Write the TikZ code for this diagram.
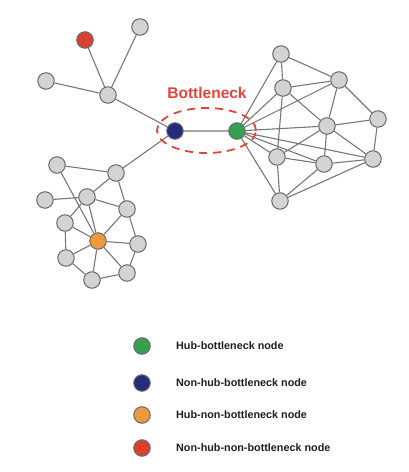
\documentclass[tikz,border=0pt]{standalone}
\usepackage{fontspec}
\setmainfont{Liberation Sans}
\usepackage{xcolor}
\usetikzlibrary{backgrounds}
\definecolor{hubgreen}{HTML}{35A04F}
\definecolor{navy3}{HTML}{272C7A}
\definecolor{orange3}{HTML}{EC9A3C}
\definecolor{red3}{HTML}{D9412F}
\definecolor{gray3}{HTML}{D3D3D3}
\definecolor{rim3}{HTML}{6A6A6A}
\definecolor{link3}{HTML}{777777}
\definecolor{mark3}{HTML}{E2443A}
\tikzset{
  vert/.style={circle, draw=rim3, line width=1pt, fill=gray3, minimum size=16.5pt, inner sep=0pt},
  link/.style={draw=link3, line width=1.1pt},
  keytext/.style={anchor=west, inner sep=0pt, text=black!88, font=\bfseries\fontsize{10.8}{12}\selectfont}
}

\begin{document}
\begin{tikzpicture}[x=1pt, y=-1pt]
    \useasboundingbox (0,0) rectangle (408,472);

    % Star around the upper hub
    \node[vert] (tA) at (140,27) {};
    \node[vert, fill=red3] (tB) at (85,40) {};
    \node[vert] (tC) at (46,81) {};
    \node[vert] (tD) at (108,95) {};

    % The two ends of the bottleneck
    \node[vert, fill=navy3] (nhb) at (175,131) {};
    \node[vert, fill=hubgreen] (hb) at (237,131) {};

    % Right cluster
    \node[vert] (r1) at (281,54) {};
    \node[vert] (r2) at (283,88) {};
    \node[vert] (r3) at (339,80) {};
    \node[vert] (r4) at (378,119) {};
    \node[vert] (r5) at (327,126) {};
    \node[vert] (r6) at (277,157) {};
    \node[vert] (r7) at (324,164) {};
    \node[vert] (r8) at (373,159) {};
    \node[vert] (r9) at (280,201) {};

    % Left cluster
    \node[vert] (l1) at (57,165) {};
    \node[vert] (l2) at (116,173) {};
    \node[vert] (l3) at (45,200) {};
    \node[vert] (l4) at (87,197) {};
    \node[vert] (l5) at (127,209) {};
    \node[vert] (l6) at (65,223) {};
    \node[vert, fill=orange3] (hnb) at (98,241) {};
    \node[vert] (l7) at (138,244) {};
    \node[vert] (l8) at (66,258) {};
    \node[vert] (l9) at (127,273) {};
    \node[vert] (l10) at (92,280) {};

    \begin{scope}[on background layer]
      \draw[link] (tA) -- (tD) (tB) -- (tD) (tC) -- (tD) (tD) -- (nhb)
        (nhb) -- (hb) (nhb) -- (l2);
      \draw[link] (hb) -- (r1) (hb) -- (r2) (hb) -- (r3) (hb) -- (r5)
        (hb) -- (r6) (hb) -- (r7) (hb) -- (r8) (hb) -- (r9)
        (r1) -- (r2) (r1) -- (r3) (r2) -- (r3) (r2) -- (r5) (r2) -- (r6)
        (r3) -- (r5) (r3) -- (r4) (r4) -- (r5) (r4) -- (r8)
        (r5) -- (r6) (r5) -- (r7) (r5) -- (r8)
        (r6) -- (r7) (r6) -- (r9) (r7) -- (r8) (r7) -- (r9) (r8) -- (r9);
      \draw[link] (l1) -- (l2) (l1) -- (hnb) (l2) -- (l4) (l2) -- (l5)
        (l3) -- (l4) (l4) -- (l5) (l4) -- (l6) (l4) -- (hnb)
        (l5) -- (hnb) (l5) -- (l7) (l6) -- (hnb) (l6) -- (l8)
        (hnb) -- (l7) (hnb) -- (l8) (hnb) -- (l9) (hnb) -- (l10)
        (l7) -- (l9) (l8) -- (l10) (l9) -- (l10);
    \end{scope}

    % Bottleneck mark
    \draw[mark3, line width=1.8pt, dash pattern=on 8pt off 6pt]
      (206.5,130.5) ellipse [x radius=49.5pt, y radius=22.5pt];
    \node[text=mark3, font=\bfseries\fontsize{15.5}{18}\selectfont] (bnlabel) at (207,93) {Bottleneck};

    % Legend
    \node[vert, fill=hubgreen] (kg) at (142,346) {};
    \node[vert, fill=navy3] (kb) at (142,383) {};
    \node[vert, fill=orange3] (ko) at (142,415) {};
    \node[vert, fill=red3] (kr) at (142,448) {};
    \node[keytext] (tg) at (176,346) {Hub-bottleneck node};
    \node[keytext] (tb) at (176,383) {Non-hub-bottleneck node};
    \node[keytext] (to) at (176,415) {Hub-non-bottleneck node};
    \node[keytext] (tr) at (176,448) {Non-hub-non-bottleneck node};
  \end{tikzpicture}
\end{document}
